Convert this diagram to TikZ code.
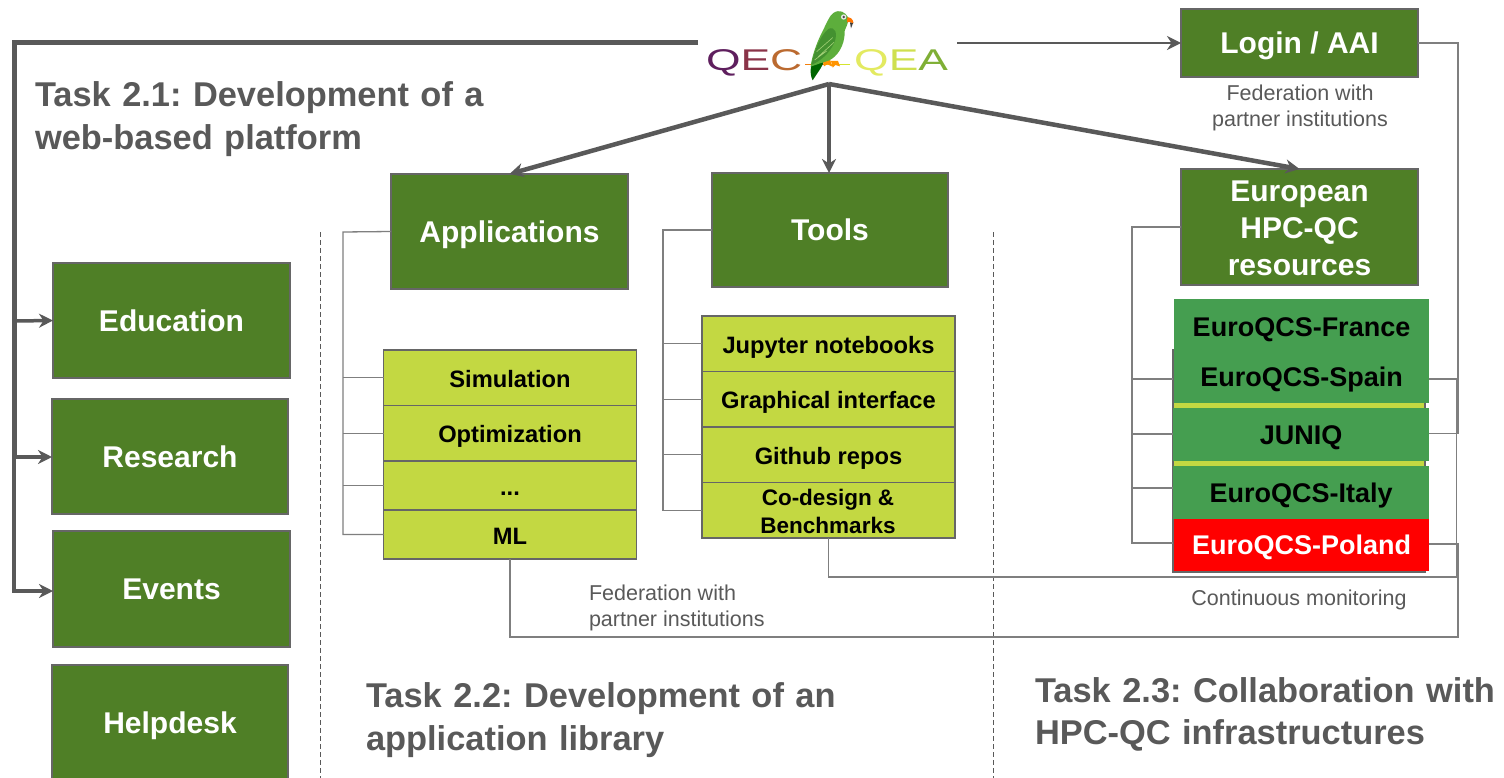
\documentclass[tikz,border=0pt]{standalone}
\usepackage{fontspec}
\setmainfont{Liberation Sans}
\usetikzlibrary{arrows.meta,calc}
\definecolor{dgreen}{HTML}{4F7F26}
\definecolor{lime}{HTML}{C3D842}
\definecolor{mgreen}{HTML}{459E50}
\definecolor{gtxt}{HTML}{595959}
\definecolor{gline}{HTML}{7F7F7F}
\definecolor{gedge}{HTML}{666666}
\definecolor{garrow}{HTML}{595959}
\newcommand{\fs}[1]{\fontsize{#1}{#1}\selectfont\frenchspacing}
\tikzset{
  x=1pt,y=-1pt,
  every node/.style={inner sep=0pt,outer sep=0pt},
  bigbox/.style={draw=gedge,line width=1.1pt,fill=dgreen,text=white,font=\fs{30}\bfseries,align=center},
  oneline/.style={text height=#1,text depth=0pt},
  bigone/.style={bigbox,oneline=21.6pt},
  row/.style={draw=gedge,line width=1.1pt,fill=lime,text=black,font=\fs{23.7}\bfseries,align=center,minimum width=253pt},
  rowone/.style={row,oneline=19.5pt},
  stackbox/.style={fill=mgreen,text=black,font=\fs{27}\bfseries,minimum width=255pt,oneline=19.4pt},
  thin line/.style={draw=gline,line width=1.3pt},
  feed/.style={draw=garrow,line width=#1,-{Stealth[length=14pt,width=14pt,inset=4.5pt]}},
  feed/.default=3pt,
  tasklabel/.style={text=gtxt,font=\fs{34.4}\bfseries,align=left,anchor=west},
  note/.style={text=gtxt,font=\fs{21.5},align=center},
  divider/.style={draw=gtxt,line width=0.9pt,dash pattern=on 5pt off 3pt},
}
\begin{document}
\begin{tikzpicture}
\useasboundingbox[fill=white] (0,0) rectangle (1504,778);

% dividers
\coordinate (d1t) at (320,232); \coordinate (d1b) at (320,778);
\coordinate (d2t) at (993,232); \coordinate (d2b) at (993,778);
\draw[divider] (d1t) -- (d1b);
\draw[divider] (d2t) -- (d2b);

% left column boxes
\node[bigone,minimum width=237pt,minimum height=115pt] (edu) at (171.5,320.5) {Education};
\node[bigone,minimum width=236pt,minimum height=115pt] (res) at (170,456.5) {Research};
\node[bigone,minimum width=237pt,minimum height=116pt] (evt) at (171.5,589) {Events};
\node[bigone,minimum width=236pt,minimum height=116pt] (help) at (170,723) {Helpdesk};

% main boxes
\node[bigone,minimum width=237pt,minimum height=68pt] (login) at (1299.5,43) {Login / AAI};
\node[bigone,minimum width=237pt,minimum height=115pt] (apps) at (509.5,231.5) {Applications};
\node[bigone,minimum width=236pt,minimum height=114pt] (tools) at (830,230) {Tools};
\node[bigbox,minimum width=237pt,minimum height=116pt] (hpc) at (1299.5,227) {};
\node[text=white,font=\fs{30}\bfseries,align=center] (hpct) at (1299.5,228) {European\\[7pt]HPC-QC\\[7pt]resources};

% application table
\node[rowone,minimum height=55.5pt] (sim) at (510,377.7) {Simulation};
\node[rowone,minimum height=55.5pt] (opt) at (510,433.2) {Optimization};
\node[rowone,minimum height=49pt] (dots) at (510,485.5) {...};
\node[rowone,minimum height=49pt] (ml) at (510,534.5) {ML};

% tool table
\node[rowone,minimum height=55.5pt] (jup) at (828.5,343.7) {Jupyter notebooks};
\node[rowone,minimum height=55.5pt] (gui) at (828.5,399.2) {Graphical interface};
\node[rowone,minimum height=55.5pt] (git) at (828.5,454.7) {Github repos};
\node[row,minimum height=55.5pt] (cod) at (828.5,510.2) {};
\node[text=black,font=\fs{22.5}\bfseries,align=center] (codt) at (828,511.5) {Co-design \&\\[6pt]Benchmarks};

% HPC stack
\node[draw=gedge,line width=1.1pt,fill=lime,minimum width=252pt,minimum height=222pt] (back) at (1299,461) {};
\node[stackbox,minimum height=55.4pt] (fra) at (1301.5,326.7) {EuroQCS-France};
\node[stackbox,minimum height=52pt] (spa) at (1301.5,377) {EuroQCS-Spain};
\node[stackbox,minimum width=256pt,minimum height=53pt] (jun) at (1301,434.5) {JUNIQ};
\node[stackbox,minimum width=256pt,minimum height=53pt] (ita) at (1301,492.5) {EuroQCS-Italy};
\node[stackbox,fill=red,text=white,minimum height=52pt] (pol) at (1301.5,545) {EuroQCS-Poland};

% logo
\node[anchor=west,font=\fs{30}] (logoA) at (706,63) {\scalebox{1.48}[1]{\textcolor[HTML]{5F1F5E}{Q}\textcolor[HTML]{8A3348}{E}\textcolor[HTML]{BB6A30}{C}}};
\node[anchor=east,font=\fs{30}] (logoB) at (948,63) {\scalebox{1.48}[1]{\textcolor[HTML]{E3EA60}{Q}\textcolor[HTML]{CFE04F}{E}\textcolor[HTML]{7FAF35}{A}}};
\begin{scope}[shift={(800,5)},x=0.3333pt,y=-0.3333pt]
  \draw[draw=orange!80!brown,line width=1.6pt] (15,178) -- (80,178);
  \draw[draw=lime!70!yellow,line width=1.6pt] (80,178) -- (150,178);
  \fill[fill=black!75] (150,52) -- (160,52) -- (153,70) -- cycle;
  \fill[fill=green!40!black] (34,180) .. controls (30,200) and (32,215) .. (38,226) -- (62,190) -- (75,165) -- cycle;
  \fill[fill=orange!85!yellow] (68,165) -- (90,163) -- (97,185) -- (82,178) -- (72,184) -- cycle;
  \fill[fill=orange!85!yellow] (93,168) -- (114,168) -- (120,184) -- (106,180) -- (98,188) -- cycle;
  \fill[fill={rgb,255:red,93;green,174;blue,60}] (145,38) .. controls (135,20) and (118,12) .. (100,24) .. controls (88,32) and (80,55) .. (62,90) .. controls (50,115) and (35,155) .. (32,185) .. controls (45,180) and (70,172) .. (88,166) .. controls (110,155) and (135,125) .. (134,78) .. controls (138,65) and (145,58) .. (145,38) -- cycle;
  \fill[fill={rgb,255:red,68;green,145;blue,48}] (85,72) .. controls (105,62) and (115,85) .. (102,115) .. controls (88,145) and (62,168) .. (34,180) .. controls (42,140) and (60,92) .. (85,72) -- cycle;
  \draw[draw={rgb,255:red,165;green,210;blue,120},line width=0.6pt] (50,140) -- (98,98) (55,155) -- (102,112) (44,165) -- (80,138);
  \fill[fill=orange!90!red] (142,37) .. controls (152,36) and (161,44) .. (160,55) .. controls (154,50) and (146,50) .. (141,52) -- cycle;
  \fill[fill=white!85!gray] (131,36) circle[radius=8];
  \fill[fill=black!70] (131,36) circle[radius=4];
\end{scope}

% named routing points
\coordinate (logoW) at (698,43);
\coordinate (logoE) at (957,43);
\coordinate (logoS) at (829,84);
\coordinate (corner) at (14,43);
\coordinate (mid) at (14,457);
\coordinate (low) at (14,591);
\coordinate (bA) at (343,232);
\coordinate (bT) at (663,230);
\coordinate (bH) at (1132,227);
\coordinate (r1) at (1458,43);
\coordinate (r2) at (1456.5,379);
\coordinate (ySpain) at (1429,379);
\coordinate (yJun) at (1429,433.5);
\coordinate (yPol) at (1429,544);
\coordinate (lSpain) at (1173,379);
\coordinate (lJun) at (1173,434);
\coordinate (lIta) at (1173,488);
\coordinate (lPol) at (1173,543);

% thin brackets
\draw[thin line] (apps.west) -- (bA) |- (ml.west);
\draw[thin line] (sim.west) -- (sim.west -| bA);
\draw[thin line] (opt.west) -- (opt.west -| bA);
\draw[thin line] (dots.west) -- (dots.west -| bA);
\draw[thin line] (tools.west) -- (bT) |- (cod.west);
\draw[thin line] (jup.west) -- (jup.west -| bT);
\draw[thin line] (gui.west) -- (gui.west -| bT);
\draw[thin line] (git.west) -- (git.west -| bT);
\draw[thin line] (hpc.west) -- (bH) |- (lPol);
\draw[thin line] (lSpain) -- (lSpain -| bH);
\draw[thin line] (lJun) -- (lJun -| bH);
\draw[thin line] (lIta) -- (lIta -| bH);

% right side returns
\draw[thin line] (login.east) -- (r1) |- (yJun);
\draw[thin line] (cod.south) |- (1456.5,577) -- (r2) -- (ySpain);
\draw[thin line] (ml.south) |- (1458,637) -- (1458,544) -- (yPol);

% thick connectors
\draw[draw=garrow,line width=5pt,line join=miter] (logoW) -- (corner) -- (mid);
\draw[feed=3.2pt,line join=miter] (mid) -- (low) -- (evt.west |- low);
\draw[feed=3.5pt] (14,321) -- (edu.west);
\draw[feed=3.5pt] (mid) -- (res.west |- mid);
\draw[feed=2.5pt] (logoE) -- (login.west);
\draw[feed=4.5pt] (logoS) -- (apps.north);
\draw[feed=4.5pt] (logoS) -- (tools.north -| logoS);
\draw[feed=4.5pt] (logoS) -- (hpc.north);

% labels
\node[tasklabel,text width=460pt] (t1) at (35,119) {Task 2.1: Development of a\\[8pt]web-based platform};
\node[tasklabel,text width=480pt] (t2) at (366,720) {Task 2.2: Development of an\\[9pt]application library};
\node[tasklabel,text width=470pt] (t3) at (1035,714.5) {Task 2.3: Collaboration with\\[8pt]HPC-QC infrastructures};
\node[note] (n1) at (1300,108) {Federation with\\[5pt]partner institutions};
\node[note,align=left,anchor=west] (n2) at (589,608) {Federation with\\[5pt]partner institutions};
\node[note] (n3) at (1299,599.5) {Continuous monitoring};
\end{tikzpicture}
\end{document}
